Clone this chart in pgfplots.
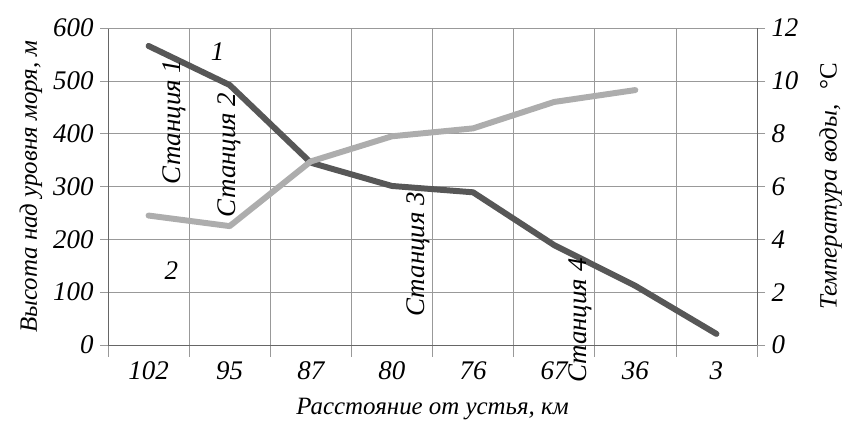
\documentclass[border=0pt]{standalone}
\usepackage{fontspec}
\setmainfont{Liberation Serif}
\usepackage{pgfplots}
\pgfplotsset{compat=1.18}
\definecolor{darkline}{gray}{0.34}
\definecolor{lightline}{gray}{0.68}
\definecolor{gridc}{gray}{0.60}
\begin{document}
\begin{tikzpicture}
\pgfplotsset{
  common/.style={
    width=649bp, height=317bp, scale only axis,
    xmin=-0.5, xmax=7.5,
    /pgf/number format/assume math mode=true,
    tick label style={font=\fontsize{27}{29}\selectfont\itshape},
    axis line style={gray!80!black, line width=0.8pt},
  }
}
\begin{axis}[common,
  name=main,
  ymin=0, ymax=600, ytick={0,100,...,600},
  xtick={0,...,7},
  xticklabels={102,95,87,80,76,67,36,3},
  major x tick style={draw=none},
  minor xtick={-0.5,0.5,...,7.5},
  xminorgrids, ymajorgrids,
  grid style={gridc, line width=0.6pt},
  minor tick style={gridc, line width=0.6pt},
  minor tick length=12bp,
  major tick length=8bp,
  tick align=outside,
  ytick style={gridc, line width=0.6pt},
  axis x line*=bottom,
  axis y line*=left,
  xticklabel style={yshift=-5bp},
  yticklabel style={xshift=-3bp},
  xlabel={\fontsize{25}{28}\selectfont\itshape Расстояние от устья, км},
  xlabel style={yshift=-12bp},
  ylabel={\fontsize{25}{28}\selectfont\itshape Высота над уровня моря, м},
  ylabel style={yshift=4bp},
  clip=false,
]
\addplot[darkline, line width=6pt, line join=round, line cap=round] coordinates {
  (0,566) (1,492) (2,345) (3,301) (4,289) (5,189) (6,112) (7,21)
};
\draw[gridc, line width=0.6pt] (axis cs:-0.5,600) -- (axis cs:7.5,600);
\node[font=\fontsize{27}{29}\selectfont\itshape] at (axis cs:0.85,556) {1};
\node[font=\fontsize{27}{29}\selectfont\itshape] at (axis cs:0.28,140) {2};
\node[rotate=90, font=\fontsize{27}{29}\selectfont\itshape] at (axis cs:0.32,422) {Станция 1};
\node[rotate=90, font=\fontsize{27}{29}\selectfont\itshape] at (axis cs:1.0,360) {Станция 2};
\node[rotate=90, font=\fontsize{27}{29}\selectfont\itshape] at (axis cs:3.32,172) {Станция 3};
\node[rotate=90, font=\fontsize{27}{29}\selectfont\itshape] at (axis cs:5.32,46) {Станция 4};
\end{axis}
\begin{axis}[common,
  ymin=0, ymax=12, ytick={0,2,...,12},
  axis x line=none,
  axis y line*=right,
  tick align=outside,
  major tick length=8bp,
  ytick style={gridc, line width=0.6pt},
  yticklabel style={xshift=3bp},
  ylabel={\fontsize{25}{28}\selectfont\itshape Температура воды,\hspace{0.6em}\upshape °C},
  ylabel style={yshift=-14bp},
]
\addplot[lightline, line width=6pt, line join=round, line cap=round] coordinates {
  (0,4.9) (1,4.5) (2,6.95) (3,7.9) (4,8.2) (5,9.2) (6,9.65)
};
\end{axis}
\path (main.south west) ++(-108bp,-88bp) coordinate (bbsw);
\path (main.north east) ++(93bp,28bp) coordinate (bbne);
\useasboundingbox (bbsw) rectangle (bbne);
\end{tikzpicture}
\end{document}
